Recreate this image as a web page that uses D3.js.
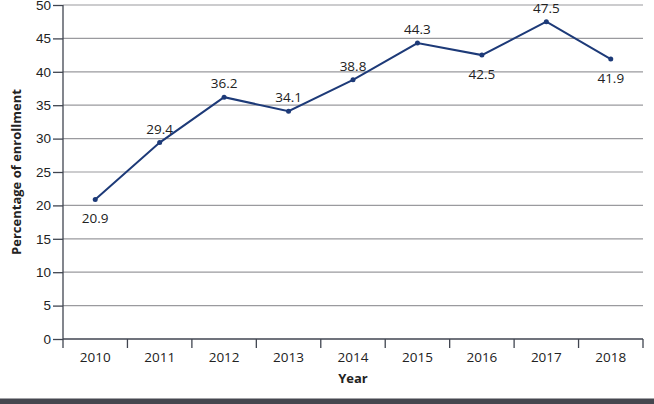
<!DOCTYPE html>
<html>
<head>
<meta charset="utf-8">
<script src="https://cdn.jsdelivr.net/npm/d3@7"></script>
<style>
  html, body { margin: 0; padding: 0; background: #fff; }
  svg { display: block; font-family: "Open Sans", "Noto Sans", sans-serif; }
</style>
</head>
<body>
<div id="chart"></div>
<script>
// data
const years = ["2010", "2011", "2012", "2013", "2014", "2015", "2016", "2017", "2018"];
const enrollment = [20.9, 29.4, 36.2, 34.1, 38.8, 44.3, 42.5, 47.5, 41.9];
const labelBelow = [true, false, false, false, false, false, true, false, true];
const yTicks = [0, 5, 10, 15, 20, 25, 30, 35, 40, 45, 50];

const W = 654, H = 404;
const margin = { top: 5, right: 11, bottom: 65, left: 63 };
const width = W - margin.left - margin.right,
      height = H - margin.top - margin.bottom;

const svg = d3.select("#chart").append("svg")
    .attr("width", W)
    .attr("height", H);

const g = svg.append("g")
    .attr("transform", `translate(${margin.left},${margin.top})`);

const x = d3.scaleBand().domain(years).range([0, width]).padding(0);
const y = d3.scaleLinear().domain([0, 50]).range([height, 0]);

// gridlines
g.selectAll(".grid")
    .data(yTicks.filter(d => d > 0))
    .enter().append("line")
    .attr("x1", 0).attr("x2", width)
    .attr("y1", d => y(d)).attr("y2", d => y(d))
    .attr("stroke", "#9a9a9e").attr("stroke-width", 1.2);

// y axis
const yAxis = g.append("g")
    .call(d3.axisLeft(y).tickValues(yTicks).tickSize(10).tickPadding(2));
yAxis.selectAll("line, path").attr("stroke", "#404550").attr("stroke-width", 1.3);
yAxis.selectAll("text").attr("font-size", 13.5).attr("fill", "#222");
yAxis.select(".domain").attr("d", `M0,${height}V0`);

// x axis: ticks on band boundaries
const xAxis = g.append("g").attr("transform", `translate(0,${height})`);
xAxis.append("line").attr("x1", 0).attr("x2", width)
    .attr("stroke", "#404550").attr("stroke-width", 1.3);
xAxis.selectAll(".bt")
    .data(years.concat(["end"]))
    .enter().append("line")
    .attr("x1", (d, i) => i < years.length ? x(d) : width)
    .attr("x2", (d, i) => i < years.length ? x(d) : width)
    .attr("y1", 0).attr("y2", 9)
    .attr("stroke", "#404550").attr("stroke-width", 1.3);
xAxis.selectAll(".yl")
    .data(years)
    .enter().append("text")
    .attr("x", d => x(d) + x.bandwidth() / 2)
    .attr("y", 23)
    .attr("text-anchor", "middle")
    .attr("font-size", 13.5)
    .attr("fill", "#222")
    .text(d => d);

// line
const pts = years.map((d, i) => ({ year: d, v: enrollment[i], below: labelBelow[i] }));
const cx = d => x(d.year) + x.bandwidth() / 2;

g.append("path")
    .datum(pts)
    .attr("fill", "none")
    .attr("stroke", "#1d3a78")
    .attr("stroke-width", 2)
    .attr("d", d3.line().x(cx).y(d => y(d.v)));

g.selectAll(".pt")
    .data(pts)
    .enter().append("circle")
    .attr("cx", cx).attr("cy", d => y(d.v))
    .attr("r", 2.5)
    .attr("fill", "#1d3a78");

g.selectAll(".val")
    .data(pts)
    .enter().append("text")
    .attr("x", cx)
    .attr("y", d => d.below ? y(d.v) + 24 : y(d.v) - 9)
    .attr("text-anchor", "middle")
    .attr("font-size", 13.5)
    .attr("fill", "#222")
    .text(d => d.v.toFixed(1));

// axis titles
svg.append("text")
    .attr("x", margin.left + width / 2)
    .attr("y", 383)
    .attr("text-anchor", "middle")
    .attr("font-size", 13)
    .attr("font-weight", "bold")
    .attr("fill", "#222")
    .text("Year");

svg.append("text")
    .attr("transform", `translate(21,${margin.top + height / 2}) rotate(-90)`)
    .attr("text-anchor", "middle")
    .attr("font-size", 13)
    .attr("font-weight", "bold")
    .attr("fill", "#222")
    .text("Percentage of enrollment");

// dark strip at the bottom
svg.append("rect")
    .attr("x", 0).attr("y", 398.5)
    .attr("width", W).attr("height", H - 398.5)
    .attr("fill", "#45474f");
</script>
</body>
</html>
